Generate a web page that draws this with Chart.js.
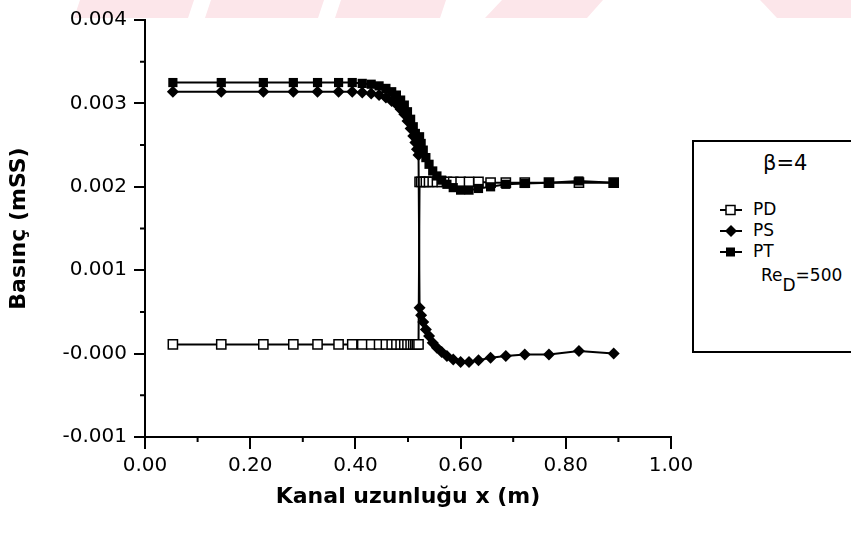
<!DOCTYPE html>
<html>
<head>
<meta charset="utf-8">
<title>Basınç dağılımı</title>
<script src="https://cdn.jsdelivr.net/npm/chart.js@4.4.1/dist/chart.umd.min.js"></script>
<style>
  html, body { margin: 0; padding: 0; background: #fff; }
  body { width: 851px; height: 534px; overflow: hidden; position: relative; font-family: "DejaVu Sans", sans-serif; }
  #stripes { position: absolute; left: 0; top: 0; }
  #myChart { position: absolute; left: 0; top: 0; }
  #legendBox {
    position: absolute; left: 692px; top: 140px; width: 180px; height: 209px;
    border: 2px solid #000; background: #fff; color: #000;
  }
  #legendBox .beta { position: absolute; left: 69px; top: 9px; font-size: 21px; }
  #legendBox .row { position: absolute; left: 26px; height: 20px; font-size: 17px; line-height: 20px; }
  #legendBox .row svg { vertical-align: middle; margin-right: 11px; }
  #legendBox .re { position: absolute; left: 67px; top: 123px; font-size: 17px; }
  #legendBox .re sub { font-size: 17px; position: relative; top: 6px; }
</style>
</head>
<body>
<!-- faint stripes along the top edge -->
<svg id="stripes" width="851" height="18">
  <polygon points="80,0 194,0 188,18 74,18" fill="#fce6ea"/>
  <polygon points="211,0 324,0 318,18 205,18" fill="#fce6ea"/>
  <polygon points="341,0 446,0 440,18 335,18" fill="#fce6ea"/>
  <polygon points="502,0 603,0 587,18 485,18" fill="#fce6ea"/>
  <polygon points="760,0 851,0 851,18 777,18" fill="#fce6ea"/>
</svg>
<canvas id="myChart" width="851" height="534"></canvas>
<div id="legendBox">
  <div class="beta">β=4</div>
  <div class="row" style="top:57px"><svg width="22" height="12"><line x1="0" y1="6" x2="22" y2="6" stroke="#000" stroke-width="2"/><rect x="6" y="1.5" width="9" height="9" fill="#fff" stroke="#000" stroke-width="1.5"/></svg>PD</div>
  <div class="row" style="top:78px"><svg width="22" height="12"><line x1="0" y1="6" x2="22" y2="6" stroke="#000" stroke-width="2"/><polygon points="11,0 17,6 11,12 5,6" fill="#000"/></svg>PS</div>
  <div class="row" style="top:99px"><svg width="22" height="12"><line x1="0" y1="6" x2="22" y2="6" stroke="#000" stroke-width="2"/><rect x="6" y="1.5" width="9" height="9" fill="#000"/></svg>PT</div>
  <div class="re">Re<sub>D</sub>=500</div>
</div>
<script>
// kanal boyunca x konumları (m)
var xPos = [0.053, 0.145, 0.225, 0.282, 0.328, 0.368, 0.394, 0.413, 0.430, 0.445, 0.458,
            0.469, 0.478, 0.486, 0.493, 0.499, 0.505, 0.510, 0.514, 0.517, 0.520,
            0.522, 0.525, 0.529, 0.534, 0.540, 0.547, 0.555, 0.564, 0.574, 0.586,
            0.600, 0.616, 0.634, 0.657, 0.686, 0.722, 0.768, 0.825, 0.891];

// dinamik basınç
var pdVals = [0.00011, 0.00011, 0.00011, 0.00011, 0.00011, 0.00011, 0.00011, 0.00011, 0.00011, 0.00011, 0.00011,
              0.00011, 0.00011, 0.00011, 0.00011, 0.00011, 0.00011, 0.00011, 0.00011, 0.00011, 0.00011,
              0.00206, 0.00206, 0.00206, 0.00206, 0.00206, 0.00206, 0.00206, 0.00206, 0.00206, 0.00206,
              0.00206, 0.00206, 0.00206, 0.00205, 0.00205, 0.00205, 0.00205, 0.00205, 0.00205];

// statik basınç
var psVals = [0.00314, 0.00314, 0.00314, 0.00314, 0.00314, 0.00314, 0.00314, 0.00313, 0.00312, 0.00310, 0.00307,
              0.00303, 0.00299, 0.00293, 0.00287, 0.00279, 0.00270, 0.00261, 0.00253, 0.00245, 0.00238,
              0.00055, 0.00046, 0.00038, 0.00029, 0.00021, 0.00013, 0.00007, 0.00002, -0.00003, -0.00007,
              -0.00010, -0.00010, -0.00008, -0.00005, -0.00003, -0.00001, -0.00001, 0.00003, 0.00000];

// toplam basınç
var ptVals = [0.00325, 0.00325, 0.00325, 0.00325, 0.00325, 0.00325, 0.00325, 0.00324, 0.00323, 0.00321, 0.00318,
              0.00314, 0.00310, 0.00304, 0.00298, 0.00290, 0.00281, 0.00272, 0.00264, 0.00256, 0.00250,
              0.00260, 0.00252, 0.00244, 0.00235, 0.00227, 0.00219, 0.00213, 0.00208, 0.00203, 0.00199,
              0.00196, 0.00196, 0.00198, 0.00200, 0.00203, 0.00204, 0.00205, 0.00207, 0.00205];

var xMinor = [0.1, 0.3, 0.5, 0.7, 0.9];
var yMinor = [-0.0005, 0.0005, 0.0015, 0.0025, 0.0035];

function toPoints(vals){
  var pts = [];
  for (var i = 0; i < xPos.length; i++){
    pts.push({x: xPos[i], y: vals[i]});
  }
  return pts;
}

// ara çentikler
var minorTicks = {
  id: 'minorTicks',
  afterDraw: function(chart){
    var ctx = chart.ctx;
    var sx = chart.scales.x, sy = chart.scales.y;
    ctx.save();
    ctx.strokeStyle = '#000';
    ctx.lineWidth = 2;
    ctx.beginPath();
    xMinor.forEach(function(v){
      var px = sx.getPixelForValue(v);
      ctx.moveTo(px, sx.top);
      ctx.lineTo(px, sx.top + 5);
    });
    yMinor.forEach(function(v){
      var py = sy.getPixelForValue(v);
      ctx.moveTo(sy.right, py);
      ctx.lineTo(sy.right - 5, py);
    });
    ctx.stroke();
    ctx.restore();
  }
};

var tickStyle = { display: true, drawOnChartArea: false, drawTicks: true, tickLength: 11, color: '#000', lineWidth: 2 };

new Chart("myChart", {
  type: "line",
  data: {
    datasets: [
      { label: "PT", data: toPoints(ptVals), order: 0, borderColor: '#000', borderWidth: 2,
        pointStyle: 'rect', pointRadius: 6.5, backgroundColor: '#000', pointBorderWidth: 0 },
      { label: "PS", data: toPoints(psVals), order: 1, borderColor: '#000', borderWidth: 2,
        pointStyle: 'rectRot', pointRadius: 6, backgroundColor: '#000', pointBorderWidth: 0 },
      { label: "PD", data: toPoints(pdVals), order: 2, borderColor: '#000', borderWidth: 2,
        pointStyle: 'rect', pointRadius: 6.5, pointBackgroundColor: '#fff', pointBorderColor: '#000', pointBorderWidth: 1.5 }
    ]
  },
  options: {
    responsive: false,
    animation: false,
    devicePixelRatio: 1,
    layout: { padding: { left: 0, top: 20, right: 180, bottom: 0 } },
    plugins: { legend: { display: false }, tooltip: { enabled: false } },
    scales: {
      x: {
        type: 'linear', min: 0, max: 1,
        afterFit: function(s){ s.height = 97; },
        border: { color: '#000', width: 2 },
        grid: Object.assign({}, tickStyle, { tickLength: 12 }),
        ticks: { stepSize: 0.2, padding: 5, color: '#000', font: { family: 'DejaVu Sans', size: 20 },
                 callback: function(v){ return v.toFixed(2); } },
        title: { display: true, text: 'Kanal uzunluğu x (m)', color: '#000',
                 font: { family: 'DejaVu Sans', size: 22, weight: 'bold' }, padding: { bottom: 24 } }
      },
      y: {
        min: -0.001, max: 0.004,
        afterFit: function(s){ s.width = 145; },
        border: { color: '#000', width: 2 },
        grid: tickStyle,
        ticks: { stepSize: 0.001, padding: 7, color: '#000', font: { family: 'DejaVu Sans', size: 20 },
                 callback: function(v){ return Math.abs(v) < 1e-9 ? '-0.000' : v.toFixed(3); } },
        title: { display: true, text: 'Basınç (mSS)', color: '#000',
                 font: { family: 'DejaVu Sans', size: 22, weight: 'bold' }, padding: { top: 6 } }
      }
    }
  },
  plugins: [minorTicks]
});
</script>
</body>
</html>
